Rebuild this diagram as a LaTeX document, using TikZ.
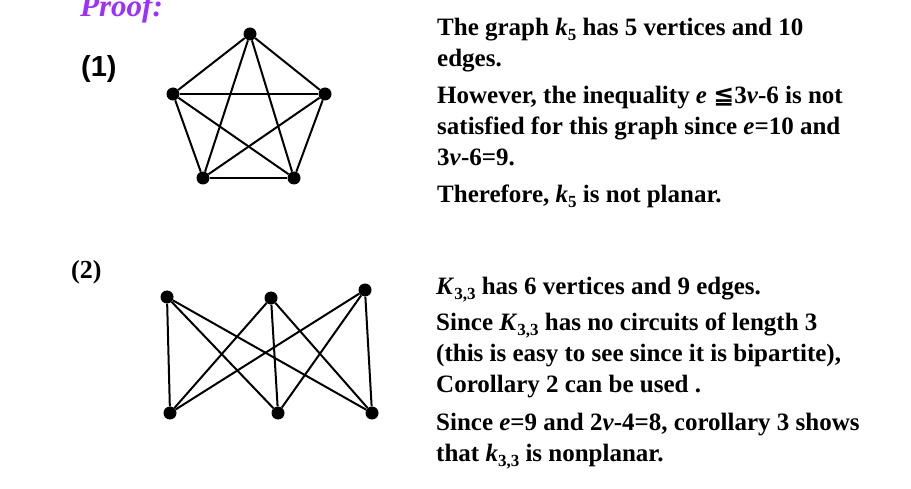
\documentclass[tikz,border=0pt]{standalone}
\usepackage{fontspec}
\setmainfont{Liberation Serif}
\newfontfamily\arialfont{Liberation Sans}
\newfontfamily\symfont{DejaVu Sans}
\definecolor{proofviolet}{RGB}{155,48,255}
\newcommand\lowsub[1]{\raisebox{-5pt}{\fontsize{17}{17}\selectfont #1}}
\begin{document}
\begin{tikzpicture}[x=1pt,y=-1pt,every node/.style={inner sep=0pt},
  vertex/.style={circle,fill,minimum size=13pt},
  edge/.style={line width=2pt},
  txt/.style={anchor=base west,align=left,font=\fontsize{25}{31}\selectfont\bfseries}]
\useasboundingbox (0,0) rectangle (911,489);
\node[anchor=base west,text=proofviolet,font=\fontsize{31}{31}\selectfont\bfseries\itshape] (proof) at (80,17) {Proof:};
\node[anchor=base west,font=\fontsize{29}{29}\selectfont\arialfont\bfseries] (one) at (81,77) {(1)};
\node[anchor=base west,font=\fontsize{26}{26}\selectfont\bfseries] (two) at (71,279) {(2)};
% k5
\node[vertex] (k1) at (250,34) {};
\node[vertex] (k2) at (325,94) {};
\node[vertex] (k3) at (294,178) {};
\node[vertex] (k4) at (203,178) {};
\node[vertex] (k5) at (173,94) {};
\foreach \i in {1,...,4} {
  \pgfmathtruncatemacro\nxt{\i+1}
  \foreach \j in {\nxt,...,5} \draw[edge] (k\i) -- (k\j);
}
% k33
\node[vertex] (t1) at (167,297) {};
\node[vertex] (t2) at (271,298) {};
\node[vertex] (t3) at (365,290) {};
\node[vertex] (b1) at (170,413) {};
\node[vertex] (b2) at (278,413) {};
\node[vertex] (b3) at (372,413) {};
\foreach \i in {1,2,3}
  \foreach \j in {1,2,3} \draw[edge] (t\i) -- (b\j);
% text, anchored at the last baseline
\node[txt] (p1) at (437,67) {The graph \textit{k}\lowsub{5} has 5 vertices and 10\\edges.};
\node[txt] (p2) at (437,166) {However, the inequality \textit{e} {\symfont ≦}3\textit{v}-6 is not\\satisfied for this graph since \textit{e}=10 and\\3\textit{v}-6=9.};
\node[txt] (p3) at (437,203) {Therefore, \textit{k}\lowsub{5} is not planar.};
\node[txt] (q1) at (436,295) {\textit{K}\lowsub{3,3} has 6 vertices and 9 edges.};
\node[txt] (q2) at (436,392) {Since \textit{K}\lowsub{3,3} has no circuits of length 3\\(this is easy to see since it is bipartite),\\Corollary 2 can be used .};
\node[txt] (q3) at (436,461) {Since \textit{e}=9 and 2\textit{v}-4=8, corollary 3 shows\\that \textit{k}\lowsub{3,3} is nonplanar.};
\end{tikzpicture}
\end{document}
